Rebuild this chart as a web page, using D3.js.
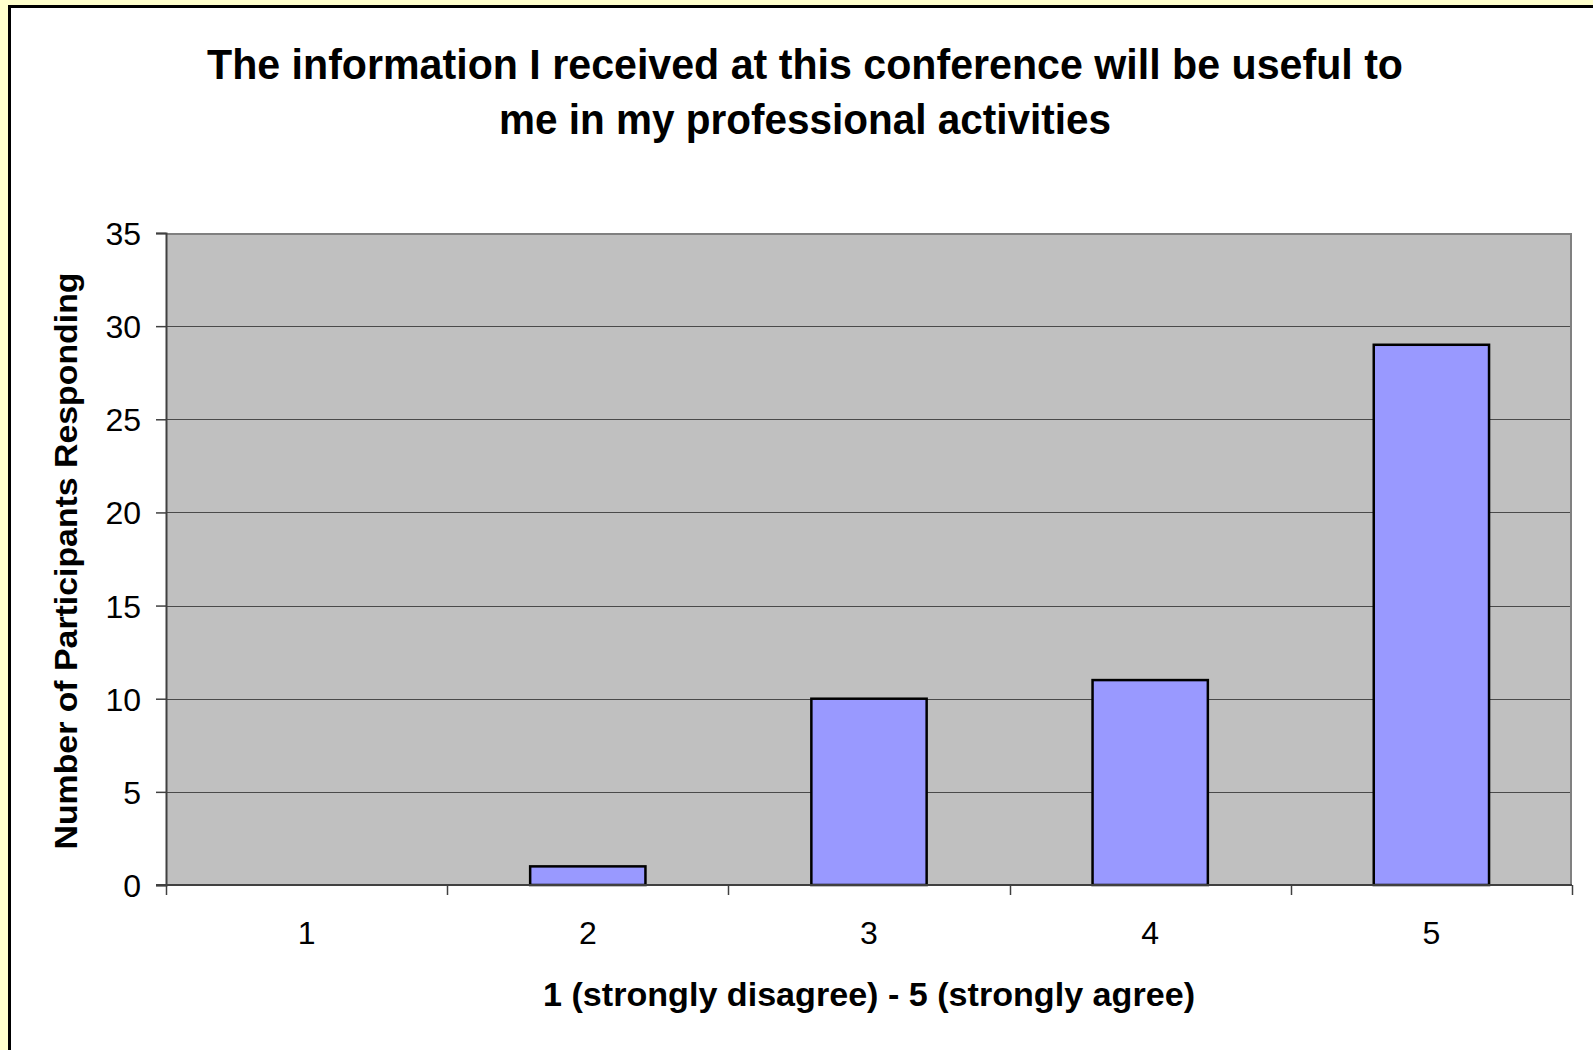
<!DOCTYPE html>
<html>
<head>
<meta charset="utf-8">
<script src="https://cdn.jsdelivr.net/npm/d3@7"></script>
<style>
  html, body { margin: 0; padding: 0; background: #FFFFCC; overflow: hidden; }
  svg { display: block; font-family: "Liberation Sans", Arial, sans-serif; }
</style>
</head>
<body>
<svg id="chart" width="1593" height="1050"></svg>
<script>
// Survey responses: rating 1..5 and number of participants giving each rating
const categories = ["1", "2", "3", "4", "5"];
const responses = [0, 1, 10, 11, 29];
const yTicks = [0, 5, 10, 15, 20, 25, 30, 35];
const titleLines = [
  "The information I received at this conference will be useful to",
  "me in my professional activities"
];
const xTitle = "1 (strongly disagree) - 5 (strongly agree)";
const yTitle = "Number of Participants Responding";

const svg = d3.select("#chart");

// Chart frame: white panel with a black border running off the page edges
svg.append("rect")
  .attr("x", 9.5).attr("y", 6.5)
  .attr("width", 1650).attr("height", 1100)
  .attr("fill", "#ffffff")
  .attr("stroke", "#000000")
  .attr("stroke-width", 3);

const plot = { left: 166, right: 1572, top: 233, bottom: 885 };

const x = d3.scaleBand()
  .domain(categories)
  .range([plot.left, plot.right])
  .paddingInner(0.59)
  .paddingOuter(0.295);

const xBand = d3.scaleBand()
  .domain(categories)
  .range([plot.left, plot.right])
  .padding(0);

const y = d3.scaleLinear()
  .domain([0, 35])
  .range([plot.bottom, plot.top]);

// Plot area background
svg.append("rect")
  .attr("x", plot.left).attr("y", plot.top)
  .attr("width", plot.right - plot.left)
  .attr("height", plot.bottom - plot.top)
  .attr("fill", "#C0C0C0");

// Horizontal gridlines
svg.append("g")
  .selectAll("line")
  .data(yTicks.filter(d => d > 0 && d < 35))
  .join("line")
  .attr("x1", plot.left).attr("x2", plot.right)
  .attr("y1", d => Math.round(y(d)) + 0.5)
  .attr("y2", d => Math.round(y(d)) + 0.5)
  .attr("stroke", "#4a4a4a")
  .attr("stroke-width", 1);

// Top and right plot borders
svg.append("path")
  .attr("d", `M${plot.left},${plot.top + 1}H${plot.right - 1}V${plot.bottom}`)
  .attr("fill", "none")
  .attr("stroke", "#808080")
  .attr("stroke-width", 2);

// Bars
svg.append("g")
  .selectAll("rect")
  .data(responses.map((v, i) => ({ cat: categories[i], v })).filter(d => d.v > 0))
  .join("rect")
  .attr("x", d => x(d.cat))
  .attr("width", x.bandwidth())
  .attr("y", d => y(d.v))
  .attr("height", d => y(0) - y(d.v))
  .attr("fill", "#9999FF")
  .attr("stroke", "#000000")
  .attr("stroke-width", 2.5);

// Y axis
const yAxis = d3.axisLeft(y)
  .tickValues(yTicks)
  .tickSize(10)
  .tickPadding(15)
  .tickFormat(d3.format("d"));

const gy = svg.append("g")
  .attr("transform", `translate(${plot.left},0)`)
  .call(yAxis);
gy.select(".domain").attr("stroke", "#404040").attr("stroke-width", 2);
gy.selectAll(".tick line").attr("stroke", "#404040").attr("stroke-width", 1.5);
gy.selectAll(".tick text")
  .attr("font-size", 32)
  .attr("fill", "#000")
  .attr("dy", "0.36em")
  .style("font-family", '"Liberation Sans", Arial, sans-serif');

// X axis: ticks sit on the category boundaries, labels at the category centres
const gx = svg.append("g")
  .attr("transform", `translate(0,${plot.bottom})`);
gx.append("line")
  .attr("x1", plot.left - 10).attr("x2", plot.right)
  .attr("y1", 0).attr("y2", 0)
  .attr("stroke", "#404040").attr("stroke-width", 2);
const boundaries = categories.map(c => xBand(c)).concat([xBand(categories[categories.length - 1]) + xBand.bandwidth()]);
gx.selectAll("line.tick")
  .data(boundaries)
  .join("line")
  .attr("class", "tick")
  .attr("x1", d => Math.round(d) + 0.5).attr("x2", d => Math.round(d) + 0.5)
  .attr("y1", 0).attr("y2", 10)
  .attr("stroke", "#404040").attr("stroke-width", 1.5);
gx.selectAll("text")
  .data(categories)
  .join("text")
  .attr("x", d => xBand(d) + xBand.bandwidth() / 2)
  .attr("y", 59)
  .attr("text-anchor", "middle")
  .attr("font-size", 32)
  .attr("fill", "#000")
  .text(d => d);

// Chart title
svg.append("g")
  .selectAll("text")
  .data(titleLines)
  .join("text")
  .attr("x", 805)
  .attr("y", (d, i) => 79 + i * 55)
  .attr("text-anchor", "middle")
  .attr("font-size", 42)
  .attr("font-weight", "bold")
  .attr("textLength", (d, i) => i === 0 ? 1196 : 612)
  .attr("lengthAdjust", "spacingAndGlyphs")
  .text(d => d);

// Axis titles
svg.append("text")
  .attr("x", (plot.left + plot.right) / 2)
  .attr("y", 1006)
  .attr("text-anchor", "middle")
  .attr("font-size", 33)
  .attr("font-weight", "bold")
  .attr("textLength", 652)
  .attr("lengthAdjust", "spacingAndGlyphs")
  .text(xTitle);

svg.append("text")
  .attr("transform", `translate(77,${(plot.top + plot.bottom) / 2 + 2}) rotate(-90)`)
  .attr("text-anchor", "middle")
  .attr("font-size", 32)
  .attr("font-weight", "bold")
  .attr("textLength", 577)
  .attr("lengthAdjust", "spacingAndGlyphs")
  .text(yTitle);
</script>
</body>
</html>
